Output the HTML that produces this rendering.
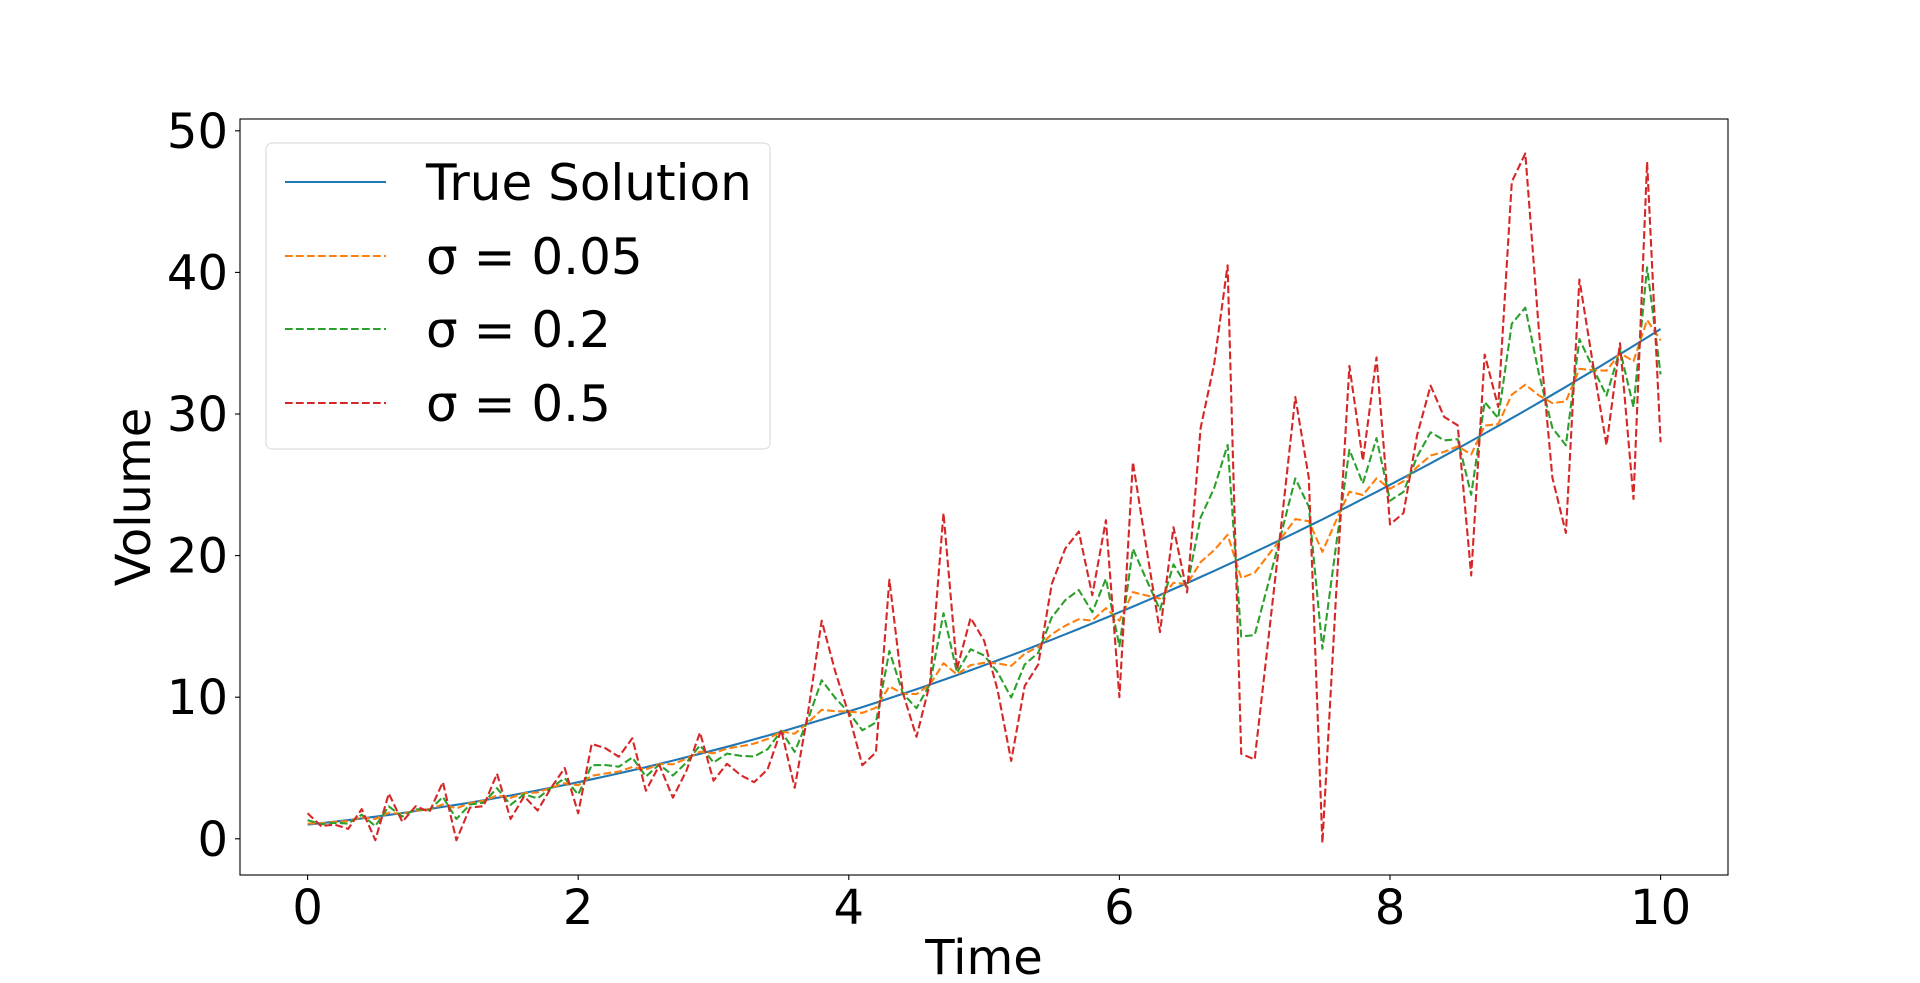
<!DOCTYPE html>
<html><head><meta charset="utf-8"><style>
html,body{margin:0;padding:0;background:#fff;}
svg{display:block;font-family:"DejaVu Sans","Liberation Sans",sans-serif;}
</style></head><body>
<svg id="chart" width="1920" height="983" viewBox="0 0 1920 983" xmlns="http://www.w3.org/2000/svg">
<rect width="1920" height="983" fill="#fff"/>
<g id="plot"></g>
<rect x="240" y="119" width="1488" height="756" fill="none" stroke="#000" stroke-width="1.1"/>
<g id="xticks"></g><g id="yticks"></g>
<text x="984" y="974" font-size="48" text-anchor="middle">Time</text>
<text transform="translate(150,497) rotate(-90)" font-size="48" text-anchor="middle">Volume</text>
<g>
<rect x="266" y="143" width="504" height="306" rx="6" fill="#fff" fill-opacity="0.8" stroke="#ddd" stroke-width="1.2"/>
<g><line x1="285" y1="182" x2="386" y2="182" stroke="#1f77b4" stroke-width="2.1"/><text x="426" y="200" font-size="50">True Solution</text></g>
<g><line x1="285" y1="256" x2="386" y2="256" stroke="#ff7f0e" stroke-width="2.1" stroke-dasharray="7.7,3.3"/><text x="426" y="274" font-size="50">σ = 0.05</text></g>
<g><line x1="285" y1="329" x2="386" y2="329" stroke="#2ca02c" stroke-width="2.1" stroke-dasharray="7.7,3.3"/><text x="426" y="347" font-size="50">σ = 0.2</text></g>
<g><line x1="285" y1="403" x2="386" y2="403" stroke="#d62728" stroke-width="2.1" stroke-dasharray="7.7,3.3"/><text x="426" y="421" font-size="50">σ = 0.5</text></g>
</g>
</svg>
<script>
const trueVals=[1.00,1.10,1.21,1.32,1.44,1.56,1.69,1.82,1.96,2.10,2.25,2.40,2.56,2.72,2.89,3.06,3.24,3.42,3.61,3.80,4.00,4.20,4.41,4.62,4.84,5.06,5.29,5.52,5.76,6.00,6.25,6.50,6.76,7.02,7.29,7.56,7.84,8.12,8.41,8.70,9.00,9.30,9.61,9.92,10.24,10.56,10.89,11.22,11.56,11.90,12.25,12.60,12.96,13.32,13.69,14.06,14.44,14.82,15.21,15.60,16.00,16.40,16.81,17.22,17.64,18.06,18.49,18.92,19.36,19.80,20.25,20.70,21.16,21.62,22.09,22.56,23.04,23.52,24.01,24.50,25.00,25.50,26.01,26.52,27.04,27.56,28.09,28.62,29.16,29.70,30.25,30.80,31.36,31.92,32.49,33.06,33.64,34.22,34.81,35.40,36.00];
const sigma005=[1.08,1.08,1.19,1.26,1.51,1.40,1.84,1.76,1.99,2.08,2.43,2.15,2.52,2.68,3.06,2.89,3.22,3.28,3.61,3.92,3.78,4.45,4.61,4.74,5.07,4.89,5.28,5.26,5.66,6.15,6.04,6.38,6.53,6.72,7.05,7.58,7.42,8.21,9.11,9.01,8.98,8.89,9.26,10.76,10.25,10.22,10.90,12.40,11.60,12.27,12.43,12.39,12.21,13.07,13.55,14.45,15.05,15.51,15.41,16.29,15.40,17.42,17.18,16.96,18.08,17.99,19.54,20.38,21.47,18.42,18.79,20.03,21.29,22.58,22.43,20.27,22.44,24.51,24.28,25.45,24.72,25.25,26.26,27.07,27.32,27.72,27.14,29.18,29.29,31.37,32.07,31.32,30.77,30.89,33.19,33.10,33.06,34.30,33.73,36.64,35.20];
const sigma02=[1.32,1.02,1.13,1.07,1.70,0.90,2.29,1.57,2.10,2.02,2.95,1.40,2.42,2.55,3.57,2.40,3.14,2.85,3.61,4.28,3.12,5.20,5.21,5.09,5.74,4.40,5.25,4.47,5.38,6.60,5.39,6.02,5.86,5.81,6.33,7.62,6.14,8.47,11.20,9.94,8.92,7.66,8.21,13.27,10.26,9.22,10.93,15.93,11.74,13.38,12.95,11.76,9.98,12.31,13.13,15.64,16.86,17.57,16.00,18.36,13.60,20.48,18.29,16.17,19.38,17.80,22.69,24.75,27.82,14.28,14.39,18.02,21.70,25.45,23.45,13.42,20.62,27.47,25.09,28.30,23.88,24.50,27.00,28.71,28.14,28.22,24.30,30.85,29.70,36.38,37.51,32.88,29.02,27.79,35.29,33.24,31.30,34.53,30.49,40.36,32.80];
const sigma05=[1.8,0.9,1.0,0.7,2.1,-0.1,3.2,1.2,2.3,1.9,4.0,-0.1,2.2,2.3,4.6,1.4,3.0,2.0,3.6,5.0,1.8,6.7,6.4,5.8,7.1,3.4,5.2,2.9,4.8,7.5,4.1,5.3,4.5,4.0,4.9,7.7,3.6,9.0,15.4,11.8,8.8,5.2,6.1,18.3,10.3,7.2,11.0,23.0,12.0,15.6,14.0,10.5,5.5,10.8,12.3,18.0,20.5,21.7,17.2,22.5,10.0,26.6,20.5,14.6,22.0,17.4,29.0,33.5,40.5,6.0,5.6,14.0,22.5,31.2,25.5,-0.3,17.0,33.4,26.7,34.0,22.2,23.0,28.5,32.0,29.8,29.2,18.6,34.2,30.5,46.4,48.4,36.0,25.5,21.6,39.5,33.5,27.8,35.0,24.0,47.8,28.0];
const xTickLabels=["0","2","4","6","8","10"];
const yTickLabels=["0","10","20","30","40","50"];
const tStep=0.1;

const NS="http://www.w3.org/2000/svg";
function sx(t){return 307.6+135.3*t;}
function sy(v){return 838.8-14.16*v;}
const plot=document.getElementById('plot');
function series(vals,color,dash,name){
  const p=document.createElementNS(NS,'polyline');
  p.setAttribute('points',vals.map((v,i)=>sx(i*tStep).toFixed(1)+','+sy(v).toFixed(1)).join(' '));
  p.setAttribute('fill','none');p.setAttribute('stroke',color);p.setAttribute('stroke-width','2.1');
  p.setAttribute('stroke-linejoin','round');
  if(dash)p.setAttribute('stroke-dasharray','7.7,3.3');
  
  
  plot.appendChild(p);
}
series(trueVals,'#1f77b4',false,'true-solution-line');
series(sigma005,'#ff7f0e',true,'sigma-005-line');
series(sigma02,'#2ca02c',true,'sigma-02-line');
series(sigma05,'#d62728',true,'sigma-05-line');

const xg=document.getElementById('xticks');
xTickLabels.forEach(l=>{
  const x=sx(parseFloat(l));
  const ln=document.createElementNS(NS,'line');
  ln.setAttribute('x1',x);ln.setAttribute('x2',x);ln.setAttribute('y1',875);ln.setAttribute('y2',880);
  ln.setAttribute('stroke','#000');ln.setAttribute('stroke-width','1.1');
  
  
  xg.appendChild(ln);
  const t=document.createElementNS(NS,'text');
  t.setAttribute('x',x);t.setAttribute('y',924);t.setAttribute('font-size','48');t.setAttribute('text-anchor','middle');
  t.textContent=l;
  
  
  xg.appendChild(t);
});
const yg=document.getElementById('yticks');
yTickLabels.forEach(l=>{
  const y=sy(parseFloat(l));
  const ln=document.createElementNS(NS,'line');
  ln.setAttribute('x1',235);ln.setAttribute('x2',240);ln.setAttribute('y1',y);ln.setAttribute('y2',y);
  ln.setAttribute('stroke','#000');ln.setAttribute('stroke-width','1.1');
  
  
  yg.appendChild(ln);
  const t=document.createElementNS(NS,'text');
  t.setAttribute('x',228);t.setAttribute('y',y+17);t.setAttribute('font-size','48');t.setAttribute('text-anchor','end');
  t.textContent=l;
  
  
  yg.appendChild(t);
});
</script>
</body></html>
